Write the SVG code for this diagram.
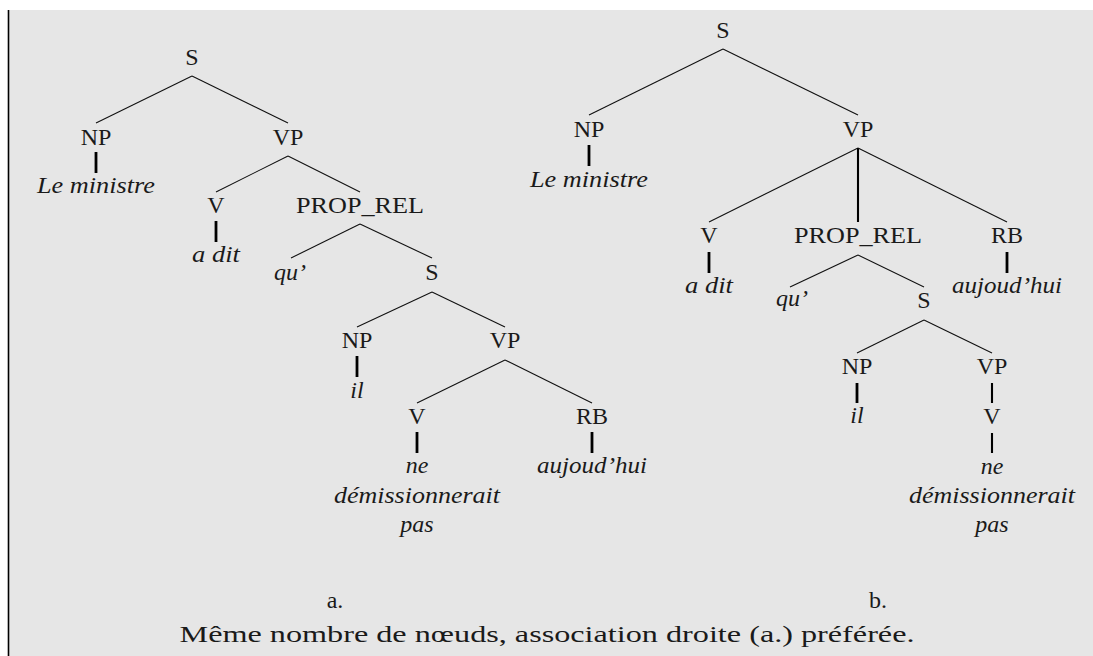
<svg xmlns="http://www.w3.org/2000/svg" width="1093" height="656" viewBox="0 0 1093 656">
<style>
text{font-family:"Liberation Serif","Times New Roman",serif;font-size:24px;fill:#1a1a1a;text-anchor:middle}
.it{font-style:italic}
.e{stroke:#111;stroke-width:1.1;fill:none}
.v{stroke:#000;stroke-width:2.1;fill:none}
.lf{stroke:#000;stroke-width:2.8;fill:none}
</style>
<rect x="0" y="0" width="1093" height="656" fill="#ffffff"/>
<rect x="8" y="10" width="1085" height="646" fill="#e6e6e6"/>
<line x1="8.5" y1="10" x2="8.5" y2="656" stroke="#000" stroke-width="1.6"/>

<g id="connectors">
  <!-- tree a -->
  <line class="e" x1="192" y1="76" x2="96" y2="123"/>
  <line class="e" x1="192" y1="76" x2="288" y2="123"/>
  <line class="lf" x1="96" y1="152" x2="96" y2="173"/>
  <line class="e" x1="288" y1="156" x2="216" y2="192"/>
  <line class="e" x1="288" y1="156" x2="360" y2="192"/>
  <line class="lf" x1="216" y1="221" x2="216" y2="242"/>
  <line class="e" x1="360" y1="224" x2="291" y2="258"/>
  <line class="e" x1="360" y1="224" x2="432" y2="258"/>
  <line class="e" x1="432" y1="292" x2="357" y2="327"/>
  <line class="e" x1="432" y1="292" x2="505" y2="327"/>
  <line class="lf" x1="357" y1="356" x2="357" y2="377"/>
  <line class="e" x1="505" y1="360" x2="417" y2="403"/>
  <line class="e" x1="505" y1="360" x2="592" y2="403"/>
  <line class="lf" x1="417" y1="432" x2="417" y2="453"/>
  <line class="lf" x1="592" y1="432" x2="592" y2="453"/>
  <!-- tree b -->
  <line class="e" x1="723" y1="49" x2="589" y2="115"/>
  <line class="e" x1="723" y1="49" x2="858" y2="115"/>
  <line class="lf" x1="589" y1="145" x2="589" y2="166"/>
  <line class="e" x1="858" y1="148" x2="709" y2="222"/>
  <line class="v" x1="858" y1="148" x2="858" y2="222"/>
  <line class="e" x1="858" y1="148" x2="1007" y2="222"/>
  <line class="lf" x1="709" y1="252" x2="709" y2="273"/>
  <line class="lf" x1="1007" y1="252" x2="1007" y2="273"/>
  <line class="e" x1="858" y1="255" x2="790" y2="287"/>
  <line class="e" x1="858" y1="255" x2="924" y2="287"/>
  <line class="e" x1="924" y1="320" x2="857" y2="353"/>
  <line class="e" x1="924" y1="320" x2="992" y2="353"/>
  <line class="lf" x1="857" y1="383" x2="857" y2="403"/>
  <line class="v" x1="992" y1="383" x2="992" y2="403"/>
  <line class="v" x1="992" y1="433" x2="992" y2="453"/>
</g>

<!-- tree a nodes -->
<g id="a-S"><text x="192" y="65">S</text></g>
<g id="a-NP"><text x="96" y="145">NP</text></g>
<g id="a-NP-leaf"><text class="it" x="96" y="193" textLength="118" lengthAdjust="spacingAndGlyphs">Le ministre</text></g>
<g id="a-VP"><text x="288" y="145">VP</text></g>
<g id="a-V"><text x="216" y="213">V</text></g>
<g id="a-V-leaf"><text class="it" x="216" y="262" textLength="48" lengthAdjust="spacingAndGlyphs">a dit</text></g>
<g id="a-PROPREL"><text x="360" y="213" textLength="128" lengthAdjust="spacingAndGlyphs">PROP_REL</text></g>
<g id="a-qu"><text class="it" x="290" y="280">qu’</text></g>
<g id="a-S2"><text x="432" y="280">S</text></g>
<g id="a-NP2"><text x="357" y="348">NP</text></g>
<g id="a-il"><text class="it" x="357" y="398">il</text></g>
<g id="a-VP2"><text x="505" y="348">VP</text></g>
<g id="a-V2"><text x="417" y="424">V</text></g>
<g id="a-V2-leaf">
  <text class="it" x="417" y="473">ne</text>
  <text class="it" x="417" y="503" textLength="166" lengthAdjust="spacingAndGlyphs">démissionnerait</text>
  <text class="it" x="417" y="532">pas</text>
</g>
<g id="a-RB"><text x="592" y="424">RB</text></g>
<g id="a-RB-leaf"><text class="it" x="592" y="473" textLength="110" lengthAdjust="spacingAndGlyphs">aujoud’hui</text></g>

<!-- tree b nodes -->
<g id="b-S"><text x="723" y="38">S</text></g>
<g id="b-NP"><text x="589" y="137">NP</text></g>
<g id="b-NP-leaf"><text class="it" x="589" y="187" textLength="118" lengthAdjust="spacingAndGlyphs">Le ministre</text></g>
<g id="b-VP"><text x="858" y="137">VP</text></g>
<g id="b-V"><text x="709" y="243">V</text></g>
<g id="b-V-leaf"><text class="it" x="709" y="293" textLength="48" lengthAdjust="spacingAndGlyphs">a dit</text></g>
<g id="b-PROPREL"><text x="858" y="243" textLength="128" lengthAdjust="spacingAndGlyphs">PROP_REL</text></g>
<g id="b-RB"><text x="1007" y="243">RB</text></g>
<g id="b-RB-leaf"><text class="it" x="1007" y="293" textLength="110" lengthAdjust="spacingAndGlyphs">aujoud’hui</text></g>
<g id="b-qu"><text class="it" x="792" y="306">qu’</text></g>
<g id="b-S2"><text x="924" y="308">S</text></g>
<g id="b-NP2"><text x="857" y="374">NP</text></g>
<g id="b-il"><text class="it" x="857" y="423">il</text></g>
<g id="b-VP2"><text x="992" y="374">VP</text></g>
<g id="b-V2"><text x="992" y="424">V</text></g>
<g id="b-V2-leaf">
  <text class="it" x="992" y="474">ne</text>
  <text class="it" x="992" y="503" textLength="166" lengthAdjust="spacingAndGlyphs">démissionnerait</text>
  <text class="it" x="992" y="532">pas</text>
</g>

<g id="labels">
  <text x="335" y="608">a.</text>
  <text x="878" y="608">b.</text>
  <text x="547" y="642" textLength="735" lengthAdjust="spacingAndGlyphs">Même nombre de nœuds, association droite (a.) préférée.</text>
</g>
</svg>
